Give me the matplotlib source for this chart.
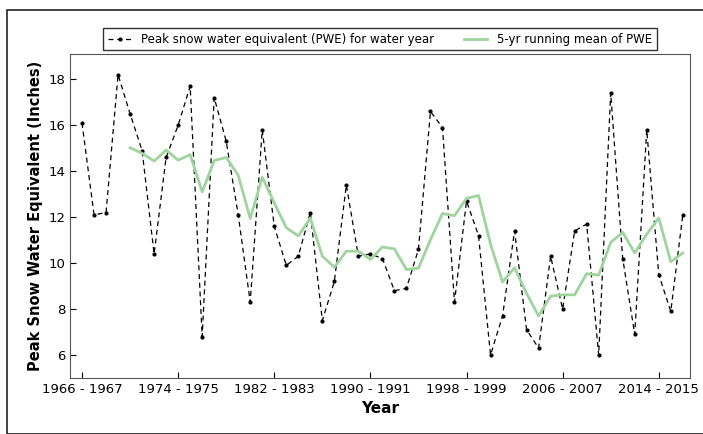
import numpy as np
import pandas as pd
import matplotlib.pyplot as plt
from matplotlib.patches import Rectangle

start_years = list(range(1966, 2017))
pwe = [16.1, 12.1, 12.2, 18.2, 16.5, 14.9, 10.4, 14.6, 16.0, 17.7,
       6.8, 17.2, 15.3, 12.1, 8.3, 15.8, 11.6, 9.9, 10.3, 12.2,
       7.5, 9.2, 13.4, 10.3, 10.4, 10.2, 8.8, 8.9, 10.6, 16.6,
       15.9, 8.3, 12.7, 11.2, 6.0, 7.7, 11.4, 7.1, 6.3, 10.3,
       8.0, 11.4, 11.7, 6.0, 17.4, 10.2, 6.9, 15.8, 9.5, 7.9, 12.1]
tick_years = list(range(1966, 2017, 8))

running = pd.Series(pwe).rolling(5).mean()

fig = plt.figure(figsize=(7.03, 4.34), dpi=100)
ax = fig.add_axes([70 / 703, 1 - 378 / 434, 620 / 703, 324 / 434])
fig.patches.append(Rectangle((7 / 703, 0), 1, 1 - 10 / 434, transform=fig.transFigure,
                             fill=False, ec='#222222', lw=1.2))

x = np.arange(len(pwe))
ax.plot(x, pwe, color='k', linestyle=(0, (4, 3)), marker='.', markersize=4, lw=0.9,
        label='Peak snow water equivalent (PWE) for water year')
ax.plot(x, running, color='#9fd49f', lw=2, label='5-yr running mean of PWE')

ax.set_xlim(-1, len(pwe) - 0.4)
ax.set_ylim(5, 19.1)
ax.set_yticks([6, 8, 10, 12, 14, 16, 18])
ax.set_xticks([y - 1966 for y in tick_years])
ax.set_xticklabels([f'{y} - {y + 1}' for y in tick_years])
ax.tick_params(labelsize=9.5, direction='in', length=4)
ax.set_xlabel('Year', fontsize=11, fontweight='bold')
ax.set_ylabel('Peak Snow Water Equivalent (Inches)', fontsize=10.5, fontweight='bold')
for s in ax.spines.values():
    s.set_color('#555555')

ax.legend(loc='lower center', bbox_to_anchor=(0.5, 1.0), ncol=2, fontsize=8.5,
          fancybox=False, edgecolor='#333333', framealpha=1, borderaxespad=0.3,
          columnspacing=2.5)

fig.savefig('out.png', dpi=100)
